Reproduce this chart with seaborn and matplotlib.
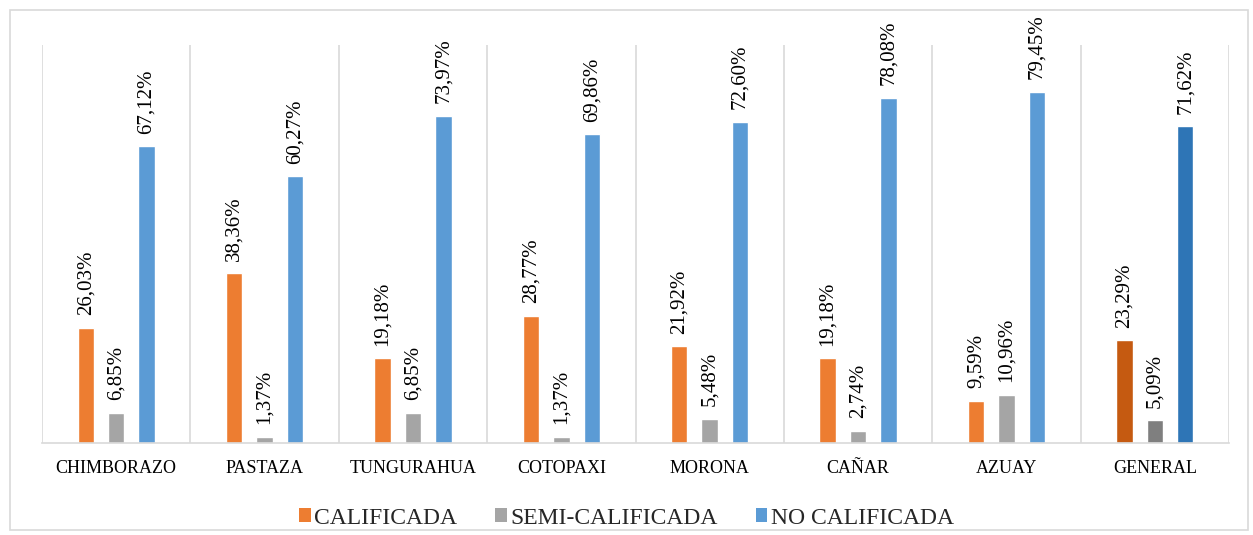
import matplotlib
matplotlib.use("Agg")
import matplotlib.pyplot as plt
import seaborn as sns
import pandas as pd
from matplotlib.patches import Rectangle, Patch

categories = ["CHIMBORAZO", "PASTAZA", "TUNGURAHUA", "COTOPAXI", "MORONA", "CAÑAR", "AZUAY", "GENERAL"]
series = ["CALIFICADA", "SEMI-CALIFICADA", "NO CALIFICADA"]
calificada = [26.03, 38.36, 19.18, 28.77, 21.92, 19.18, 9.59, 23.29]
semi_calificada = [6.85, 1.37, 6.85, 1.37, 5.48, 2.74, 10.96, 5.09]
no_calificada = [67.12, 60.27, 73.97, 69.86, 72.60, 78.08, 79.45, 71.62]

colors = ["#ED7D31", "#A5A5A5", "#5B9BD5"]
colors_general = ["#C55A11", "#7F7F7F", "#2E75B6"]

sns.set_theme(style="white")
plt.rcParams['font.family'] = ['Liberation Serif', 'DejaVu Serif']

rows = []
for s, vals in zip(series, [calificada, semi_calificada, no_calificada]):
    for c, v in zip(categories, vals):
        rows.append({"cat": c, "serie": s, "val": v})
df = pd.DataFrame(rows)

fig = plt.figure(figsize=(12.53, 5.35), dpi=100)
ax = fig.add_axes([42/1253, 1 - 443/535, (1229 - 42)/1253, (443 - 45)/535])

sns.barplot(data=df, x="cat", y="val", hue="serie", order=categories, hue_order=series,
            palette=colors, width=0.615, gap=0.46, ax=ax, legend=False, saturation=1)

# recolor GENERAL group and add value labels
for si, cont in enumerate(ax.containers):
    for ci, bar in enumerate(cont):
        if categories[ci] == "GENERAL":
            bar.set_facecolor(colors_general[si])
        v = bar.get_height()
        txt = f"{v:.2f}".replace(".", ",") + "%"
        ax.annotate(txt, (bar.get_x() + bar.get_width()/2, v), xytext=(0, 9),
                    textcoords="offset points", rotation=90, ha="center", va="bottom",
                    fontsize=15, color="#000000")

ax.set_ylim(0, 90)
ax.set_xlim(-0.5, len(categories) - 0.5)
for x in [i - 0.5 for i in range(len(categories) + 1)]:
    ax.axvline(x, color="#D9D9D9", lw=1.2, zorder=0)
for s in ["top", "right", "left"]:
    ax.spines[s].set_visible(False)
ax.spines["bottom"].set_color("#D9D9D9")
ax.spines["bottom"].set_linewidth(1.2)
ax.set_yticks([])
ax.set_xlabel("")
ax.set_ylabel("")
ax.tick_params(axis="x", length=0, pad=12, labelsize=13, labelcolor="#000000")

handles = [Patch(facecolor=c, edgecolor="none") for c in colors]
fig.legend(handles, series, loc="center", bbox_to_anchor=(0.5, 1 - 518/535), ncol=3,
           frameon=False, fontsize=17, handlelength=0.5, handleheight=0.5,
           handletextpad=0.15, columnspacing=1.6)

fig.add_artist(Rectangle((10/1253, 5/535), 1238/1253, (530 - 10)/535, transform=fig.transFigure,
                         fill=False, edgecolor="#D9D9D9", lw=1.2))

fig.savefig("out.png", dpi=100, facecolor="white")
